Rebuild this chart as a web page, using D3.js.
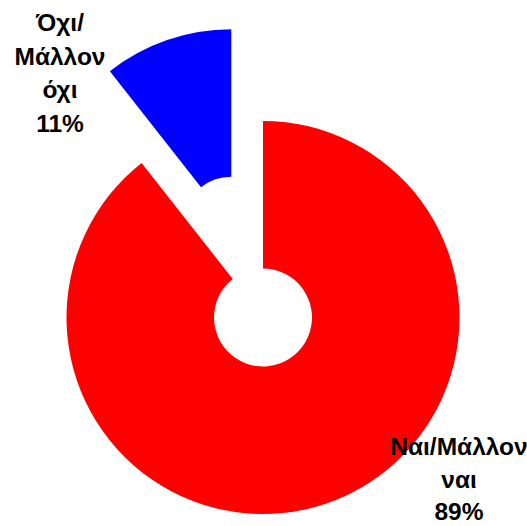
<!DOCTYPE html>
<html>
<head>
<meta charset="utf-8">
<script src="https://cdn.jsdelivr.net/npm/d3@7"></script>
<style>
	html, body { margin: 0; padding: 0; background: #fff; }
	svg { display: block; }
	.lbl { font-family: 'Liberation Sans', Arial, sans-serif; font-weight: bold; font-size: 24.5px; fill: #000; }
</style>
</head>
<body>
<div id="chart"></div>
<script>
// data
const categories = [ 'Ναι/Μάλλον ναι', 'Όχι/Μάλλον όχι' ];
const values = [ 89.4, 10.6 ];
const colors = [ '#ff0000', '#0000ff' ];
// label lines as shown in the picture
const labelLines = [ [ 'Ναι/Μάλλον', 'ναι' ], [ 'Όχι/', 'Μάλλον', 'όχι' ] ];
const exploded = [ 0, 97 ];

let dimensions = {
	width  : 527,
	height : 526,
	cx     : 263,
	cy     : 317.5,
	outer  : 196.5,
	inner  : 49
};

const svg = d3.select('#chart').append('svg').attr('width', dimensions.width).attr('height', dimensions.height);

const pie = d3.pie().sort(null).startAngle(0).endAngle(2 * Math.PI).value(function(d) {
	return d;
});
const arc = d3.arc().innerRadius(dimensions.inner).outerRadius(dimensions.outer);

const arcs = pie(values);
const total = d3.sum(values);

const bounds = svg.append('g').attr('transform', `translate(${dimensions.cx}, ${dimensions.cy})`);

bounds
	.selectAll('path')
	.data(arcs)
	.enter()
	.append('path')
	.attr('d', arc)
	.attr('fill', function(d, i) {
		return colors[i];
	})
	.attr('transform', function(d, i) {
		const mid = (d.startAngle + d.endAngle) / 2;
		const off = exploded[i];
		return `translate(${Math.sin(mid) * off}, ${-Math.cos(mid) * off})`;
	});

// labels (positioned like Excel's outside labels)
const labelPos = [ { x: 459, y: 455, gap: 32.5 }, { x: 60, y: 31, gap: 33.7 } ];

arcs.forEach(function(d, i) {
	const lines = labelLines[i].concat([ Math.round(values[i] / total * 100) + '%' ]);
	const t = svg
		.append('text')
		.attr('class', 'lbl')
		.attr('text-anchor', 'middle')
		.attr('x', labelPos[i].x)
		.attr('y', labelPos[i].y);
	lines.forEach(function(l, j) {
		t.append('tspan').attr('x', labelPos[i].x).attr('dy', j === 0 ? 0 : labelPos[i].gap).text(l);
	});
});
</script>
</body>
</html>
